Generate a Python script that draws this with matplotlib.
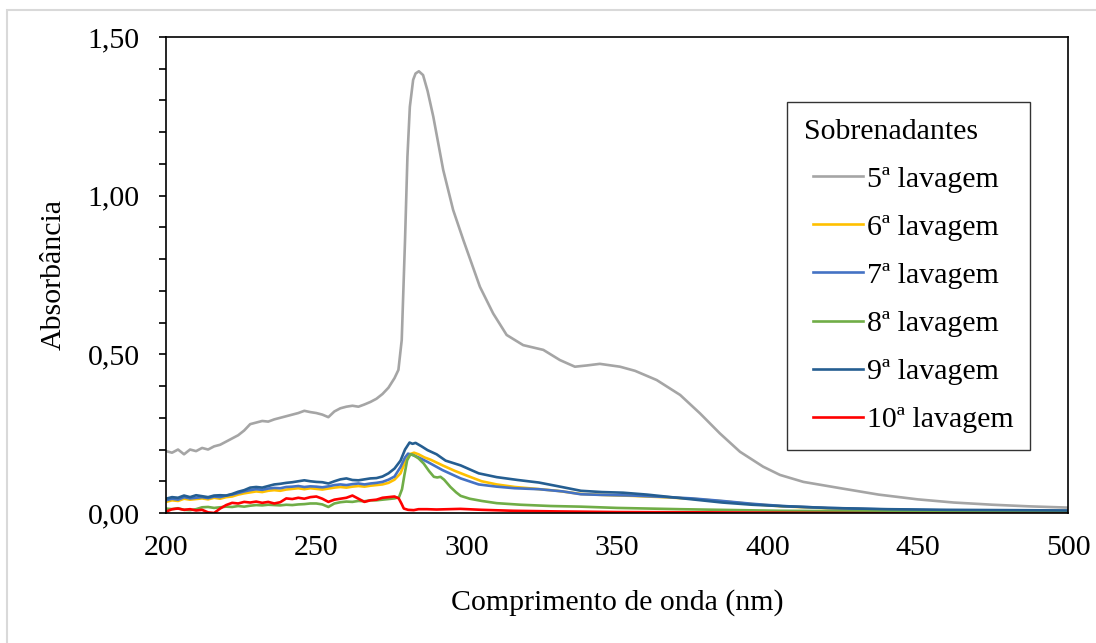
import numpy as np
import matplotlib
matplotlib.use("Agg")
import matplotlib.pyplot as plt
from matplotlib.patches import Rectangle
from matplotlib.lines import Line2D
from matplotlib.legend_handler import HandlerLine2D
from matplotlib.ticker import MultipleLocator, FuncFormatter

plt.rcParams['font.family'] = ['Liberation Serif', 'DejaVu Serif']

# wavelength grid for the noisy low-UV part (nm)
wl_low = np.arange(200, 278, 2)

# 5a lavagem
a5_low = [0.195, 0.19, 0.20, 0.185, 0.20, 0.195, 0.205, 0.20, 0.21, 0.215,
          0.225, 0.235, 0.245, 0.26, 0.28, 0.285, 0.29, 0.288, 0.295, 0.30,
          0.305, 0.31, 0.315, 0.322, 0.318, 0.315, 0.31, 0.302, 0.32, 0.33,
          0.335, 0.338, 0.335, 0.342, 0.35, 0.36, 0.375, 0.395, 0.425]
wl5_high = [277.3, 278.4, 279.5, 280.3, 281.1, 282.2, 283, 284.1, 285.5, 287,
            288.9, 292.2, 295.5, 298.9, 304.4, 308.8, 313.3, 318.8, 325.5, 331,
            336, 340, 344.3, 351, 356, 363.2, 371, 377.6, 384.2, 390.9,
            398.6, 404.2, 412, 425, 437, 450, 462, 475, 487, 500]
a5_high = [0.451, 0.545, 0.86, 1.123, 1.28, 1.365, 1.385, 1.392, 1.38, 1.33,
           1.249, 1.081, 0.955, 0.860, 0.713, 0.629, 0.561, 0.529, 0.514, 0.482,
           0.461, 0.465, 0.470, 0.461, 0.448, 0.419, 0.372, 0.314, 0.251, 0.193,
           0.146, 0.120, 0.098, 0.077, 0.058, 0.043, 0.033, 0.026, 0.021, 0.017]

# 6a lavagem
a6_low = [0.035, 0.04, 0.038, 0.045, 0.042, 0.044, 0.046, 0.043, 0.048, 0.045,
          0.05, 0.052, 0.058, 0.062, 0.065, 0.068, 0.066, 0.07, 0.072, 0.07,
          0.074, 0.076, 0.078, 0.075, 0.078, 0.076, 0.074, 0.077, 0.08, 0.082,
          0.08, 0.083, 0.085, 0.083, 0.086, 0.088, 0.09, 0.095, 0.105]
wl6_high = [278, 279.5, 281, 282.5, 284, 286, 288, 292, 296, 300,
            305, 310, 316, 322, 330, 338, 345, 355, 365, 375,
            385, 395, 405, 420, 440, 460, 480, 500]
a6_high = [0.125, 0.16, 0.185, 0.19, 0.185, 0.175, 0.168, 0.150, 0.133, 0.118,
           0.100, 0.090, 0.082, 0.077, 0.070, 0.060, 0.057, 0.054, 0.050, 0.045,
           0.037, 0.028, 0.021, 0.015, 0.010, 0.007, 0.006, 0.005]

# 7a lavagem
a7_low = [0.04, 0.045, 0.042, 0.05, 0.046, 0.048, 0.05, 0.047, 0.052, 0.05,
          0.055, 0.058, 0.063, 0.068, 0.072, 0.075, 0.073, 0.077, 0.079, 0.078,
          0.082, 0.083, 0.085, 0.082, 0.084, 0.083, 0.081, 0.084, 0.088, 0.09,
          0.088, 0.091, 0.093, 0.09, 0.093, 0.095, 0.098, 0.105, 0.115]
wl7_high = [278, 279.5, 280.5, 282, 284, 287, 292, 298, 304, 310,
            316, 324, 332, 338, 345, 355, 365, 375, 385, 395,
            405, 420, 440, 460, 480, 500]
a7_high = [0.145, 0.175, 0.187, 0.183, 0.175, 0.161, 0.135, 0.109, 0.090, 0.083,
           0.078, 0.075, 0.068, 0.059, 0.057, 0.055, 0.051, 0.046, 0.038, 0.029,
           0.022, 0.016, 0.011, 0.008, 0.007, 0.006]

# 8a lavagem
a8_low = [0.014, 0.012, 0.015, 0.01, 0.009, 0.012, 0.018, 0.019, 0.016, 0.018,
          0.02, 0.019, 0.022, 0.02, 0.023, 0.025, 0.024, 0.026, 0.025, 0.024,
          0.026, 0.025, 0.027, 0.028, 0.03, 0.03, 0.027, 0.019, 0.03, 0.034,
          0.036, 0.035, 0.038, 0.037, 0.04, 0.04, 0.042, 0.044, 0.046]
wl8_high = [277.5, 278.5, 279.3, 280.2, 281.3, 282.4, 284, 285.7, 287.5, 289.1,
            290.2, 291.3, 292.5, 294.6, 296.5, 298, 301, 305, 310, 318,
            328, 338, 350, 371, 404, 440, 470, 500]
a8_high = [0.05, 0.075, 0.12, 0.166, 0.185, 0.182, 0.172, 0.156, 0.132, 0.114,
           0.112, 0.114, 0.105, 0.082, 0.065, 0.054, 0.045, 0.038, 0.031, 0.026,
           0.022, 0.020, 0.016, 0.012, 0.007, 0.005, 0.004, 0.003]

# 9a lavagem
a9_low = [0.045, 0.05, 0.048, 0.055, 0.05, 0.056, 0.053, 0.05, 0.055, 0.056,
          0.055, 0.06, 0.067, 0.072, 0.08, 0.082, 0.08, 0.085, 0.09, 0.092,
          0.095, 0.097, 0.1, 0.103, 0.1, 0.098, 0.097, 0.093, 0.1, 0.106,
          0.109, 0.104, 0.103, 0.106, 0.109, 0.11, 0.115, 0.125, 0.14]
wl9_high = [278, 279.5, 281, 282, 283, 285, 287, 290, 293, 298,
            304, 310, 317, 324, 330, 338, 345, 352, 360, 368,
            376, 385, 395, 404, 420, 440, 460, 480, 500]
a9_high = [0.165, 0.2, 0.222, 0.218, 0.221, 0.21, 0.198, 0.185, 0.165, 0.150,
           0.125, 0.113, 0.104, 0.096, 0.085, 0.070, 0.066, 0.064, 0.058, 0.050,
           0.042, 0.033, 0.026, 0.022, 0.016, 0.012, 0.010, 0.009, 0.008]

# 10a lavagem
a10_low = [0.004, 0.012, 0.014, 0.01, 0.012, 0.008, 0.01, 0.002, 0.0, 0.014,
           0.025, 0.032, 0.03, 0.035, 0.033, 0.036, 0.032, 0.035, 0.03, 0.034,
           0.046, 0.044, 0.048, 0.045, 0.05, 0.052, 0.045, 0.035, 0.042, 0.045,
           0.048, 0.055, 0.045, 0.035, 0.04, 0.042, 0.048, 0.05, 0.052]
wl10_high = [277.4, 278.3, 279.1, 280.5, 282.4, 284, 286.8, 290, 297.9, 305,
             315.5, 330, 350, 380, 420, 460, 500]
a10_high = [0.046, 0.03, 0.014, 0.01, 0.009, 0.012, 0.012, 0.011, 0.013, 0.01,
            0.007, 0.005, 0.003, 0.002, 0.0, -0.002, -0.003]

labels = ['5ª lavagem', '6ª lavagem', '7ª lavagem', '8ª lavagem', '9ª lavagem', '10ª lavagem']
colors = ['#A5A5A5', '#FFC000', '#4472C4', '#70AD47', '#255E91', '#FF0000']

series = [(wl5_high, a5_low, a5_high), (wl6_high, a6_low, a6_high),
          (wl7_high, a7_low, a7_high), (wl8_high, a8_low, a8_high),
          (wl9_high, a9_low, a9_high), (wl10_high, a10_low, a10_high)]

FS = 21.5

fig = plt.figure(figsize=(10.96, 6.43), dpi=100)
ax = fig.add_axes([166/1096, 1-513/643, 902/1096, 476/643])

for (wh, lo, hi), lab, col in zip(series, labels, colors):
    x = np.concatenate([wl_low, wh])
    y = np.concatenate([lo, hi])
    ax.plot(x, y, color=col, lw=1.9, label=lab, solid_joinstyle='round')

ax.set_xlim(200, 500)
ax.set_ylim(0, 1.5)
ax.xaxis.set_major_locator(MultipleLocator(50))
ax.yaxis.set_major_locator(MultipleLocator(0.5))
ax.yaxis.set_minor_locator(MultipleLocator(0.1))
ax.yaxis.set_major_formatter(FuncFormatter(lambda v, p: f'{v:.2f}'.replace('.', ',')))

ax.tick_params(axis='y', which='both', direction='out', length=5, width=1.2,
               labelsize=FS, pad=14)
ax.tick_params(axis='x', which='both', length=0, labelsize=FS, pad=16)
for s in ax.spines.values():
    s.set_linewidth(1.2)
    s.set_color('black')

ax.set_xlabel('Comprimento de onda (nm)', fontsize=FS, labelpad=20)
ax.set_ylabel('Absorbância', fontsize=FS, labelpad=15)

# legend handles indented a little from the title
leg = ax.legend(title='Sobrenadantes', loc='upper right',
                bbox_to_anchor=(0.958, 0.863), borderaxespad=0,
                fontsize=FS, title_fontsize=FS,
                frameon=True, fancybox=False, edgecolor='black',
                handlelength=1.97, handletextpad=0.15, labelspacing=0.71,
                borderpad=0.55, alignment='left',
                handler_map={Line2D: HandlerLine2D(xpad=0.3)})
leg.get_frame().set_linewidth(1.0)

# light frame round the whole figure
fig.patches.append(Rectangle((7/1096, -0.1), 1.2, 1.1 - 10/643,
                             transform=fig.transFigure, fill=False,
                             edgecolor='#D9D9D9', lw=1.5))

fig.savefig('out.png', dpi=100)
